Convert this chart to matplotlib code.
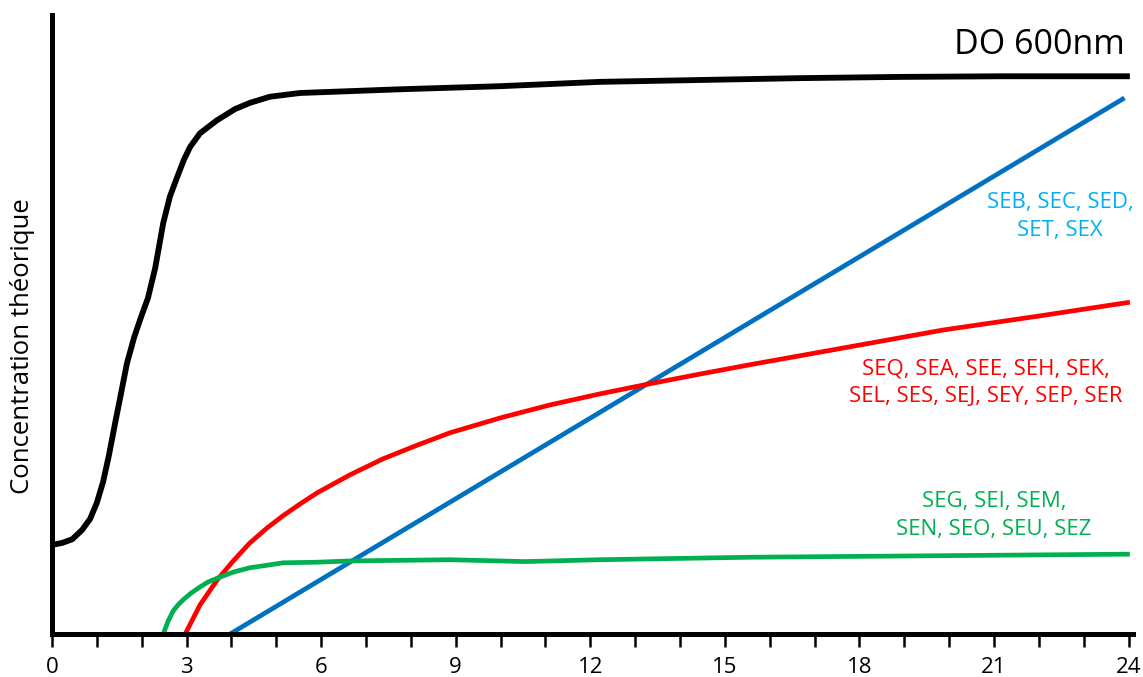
import numpy as np
import matplotlib.pyplot as plt

# Theoretical curves (x = time, y = concentration in arbitrary units 0-100)
do_x = [0, 0.22, 0.45, 0.67, 0.85, 1.00, 1.14, 1.27, 1.40, 1.54, 1.67, 1.83, 1.98, 2.14, 2.30, 2.48,
        2.63, 2.79, 2.94, 3.08, 3.30, 3.68, 4.08, 4.41, 4.86, 5.53, 7.76, 9.99, 12.22, 14.45, 16.68,
        18.91, 21.14, 24.03]
do_y = [14.4, 14.7, 15.3, 16.8, 18.6, 21.2, 24.6, 28.9, 33.8, 38.9, 43.7, 47.9, 51.1, 54.3, 59.1, 66.4,
        70.7, 73.8, 76.6, 78.7, 80.9, 83.0, 84.8, 85.8, 86.8, 87.4, 88.0, 88.5, 89.2, 89.5, 89.8,
        90.0, 90.1, 90.1]

blue_x = [3.97, 23.91]
blue_y = [0.0, 86.6]

red_x = [2.97, 3.30, 3.68, 4.04, 4.41, 4.79, 5.15, 5.53, 5.91, 6.64, 7.38, 8.14, 8.87, 9.99, 11.10,
         12.22, 13.31, 14.45, 15.56, 17.79, 19.86, 22.03, 24.03]
red_y = [0.0, 4.7, 8.7, 11.8, 14.7, 17.1, 19.1, 21.0, 22.8, 25.7, 28.3, 30.5, 32.5, 34.9, 37.0,
         38.8, 40.4, 42.0, 43.5, 46.4, 49.1, 51.4, 53.6]

green_x = [2.48, 2.59, 2.70, 2.81, 2.92, 3.10, 3.30, 3.48, 3.68, 4.04, 4.41, 4.79, 5.15, 5.91, 6.64,
           8.87, 10.55, 12.22, 15.56, 24.03]
green_y = [0.0, 2.1, 3.7, 4.7, 5.5, 6.6, 7.6, 8.4, 9.0, 10.0, 10.7, 11.1, 11.5, 11.6, 11.8,
           12.0, 11.7, 12.0, 12.4, 12.9]

xticks = list(range(0, 25))
xticklabels = [str(t) if t % 3 == 0 else '' for t in xticks]

lbl_blue = 'SEB, SEC, SED,\nSET, SEX'
lbl_red = 'SEQ, SEA, SEE, SEH, SEK,\nSEL, SES, SEJ, SEY, SEP, SER'
lbl_green = 'SEG, SEI, SEM,\nSEN, SEO, SEU, SEZ'

plt.rcParams['font.family'] = ['Open Sans', 'DejaVu Sans']

fig = plt.figure(figsize=(11.43, 6.77), dpi=100)
ax = fig.add_axes([52/1143, 43/677, (1133-52)/1143, (634-15)/677])

kw = dict(solid_capstyle='butt', solid_joinstyle='round')
ax.plot(do_x, do_y, color='black', lw=4.2, **kw)
ax.plot(blue_x, blue_y, color='#0070C0', lw=3.4, **kw)
ax.plot(red_x, red_y, color='#FF0000', lw=3.4, **kw)
ax.plot(green_x, green_y, color='#00B050', lw=3.4, **kw)

ax.set_xlim(0, 24.1)
ax.set_ylim(0, 100)

for s in ['top', 'right']:
    ax.spines[s].set_visible(False)
for s in ['left', 'bottom']:
    ax.spines[s].set_linewidth(3.6)
    ax.spines[s].set_zorder(5)

ax.set_xticks(xticks)
ax.set_xticklabels(xticklabels)
ax.tick_params(axis='x', direction='out', length=9.5, width=1.8, pad=7, labelsize=16)
ax.set_yticks([])

ax.set_ylabel('Concentration théorique', fontsize=18.5)
ax.yaxis.set_label_coords(-0.016, 0.465)

ax.text(23.92, 95.2, 'DO 600nm', fontsize=24.5, ha='right', va='center', color='black')
ax.text(22.47, 67.5, lbl_blue, fontsize=16, ha='center', va='center', color='#00B0F0', linespacing=1.45)
ax.text(20.82, 40.6, lbl_red, fontsize=16, ha='center', va='center', color='#FF0000', linespacing=1.45)
ax.text(21.0, 19.1, lbl_green, fontsize=16, ha='center', va='center', color='#00B050', linespacing=1.45)

plt.savefig('out.png', dpi=100)
